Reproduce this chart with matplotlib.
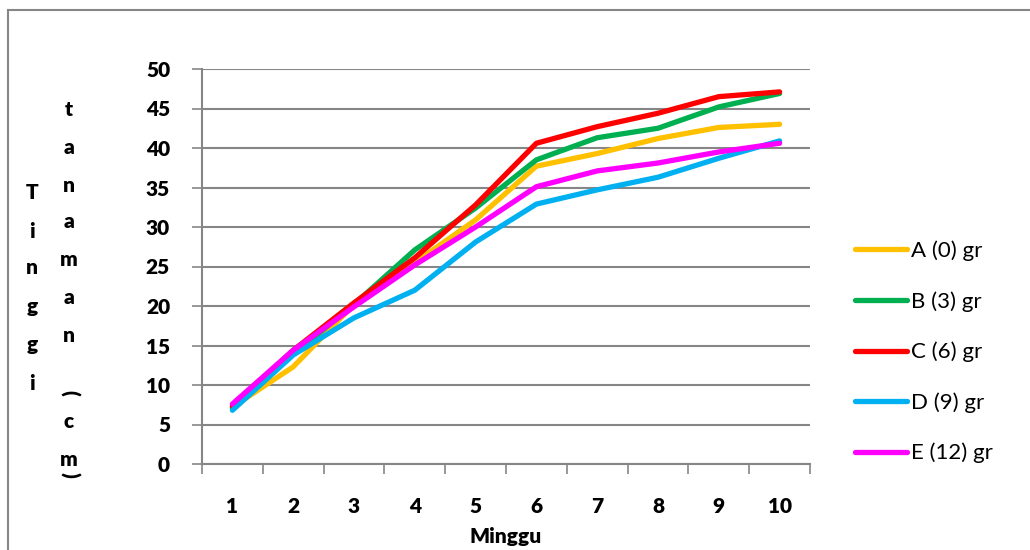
import matplotlib.pyplot as plt
import matplotlib as mpl
from matplotlib.patches import Rectangle

mpl.rcParams["font.family"] = ["Lato", "DejaVu Sans"]

# ---- Data ----
weeks = [1, 2, 3, 4, 5, 6, 7, 8, 9, 10]
series_labels = ["A (0) gr", "B (3) gr", "C (6) gr", "D (9) gr", "E (12) gr"]
a_vals = [7.2, 12.3, 20.2, 25.5, 30.9, 37.7, 39.3, 41.2, 42.6, 43.0]
b_vals = [7.0, 13.9, 20.2, 27.1, 32.4, 38.5, 41.3, 42.5, 45.2, 46.9]
c_vals = [7.3, 14.4, 20.4, 26.1, 32.8, 40.6, 42.7, 44.4, 46.5, 47.1]
d_vals = [6.8, 13.8, 18.5, 22.0, 28.1, 32.9, 34.7, 36.3, 38.7, 40.9]
e_vals = [7.6, 14.4, 19.9, 25.2, 30.0, 35.1, 37.1, 38.1, 39.5, 40.6]
colors = ["#FFC000", "#00B050", "#FF0000", "#00B0F0", "#FF00FF"]

W, H = 1030, 550
fig = plt.figure(figsize=(W / 100, H / 100), dpi=100)
fig.patch.set_facecolor("white")

# outer chart border (runs off the right/bottom edge)
fig.patches.append(Rectangle((8 / W, -0.05), 1.1, (H - 10) / H + 0.05,
                             transform=fig.transFigure, fill=False,
                             edgecolor="#868686", linewidth=1.5))

ax = fig.add_axes([202 / W, (H - 464) / H, (810 - 202) / W, (464 - 69) / H])

grid_c = "#868686"
for vals, lab, col in zip([a_vals, b_vals, c_vals, d_vals, e_vals], series_labels, colors):
    ax.plot(weeks, vals, color=col, linewidth=3.8, label=lab,
            solid_capstyle="round", solid_joinstyle="round", zorder=3)

ax.set_xlim(0.5, 10.5)
ax.set_ylim(0, 50)
ax.set_yticks(range(0, 51, 5))
ax.set_xticks(weeks)
ax.set_xticks([w + 0.5 for w in [0] + weeks], minor=True)
ax.tick_params(axis="x", which="major", length=0, pad=24, labelsize=15)
ax.tick_params(axis="x", which="minor", length=7, width=1.2, color=grid_c, direction="out")
ax.tick_params(axis="y", length=7, width=1.2, color=grid_c, direction="out", pad=16, labelsize=15)
for lab in ax.get_xticklabels() + ax.get_yticklabels():
    lab.set_fontweight("heavy")

ax.grid(axis="y", color=grid_c, linewidth=1.5, zorder=0)
ax.set_axisbelow(True)
for s in ["top", "right"]:
    ax.spines[s].set_visible(False)
for s in ["left", "bottom"]:
    ax.spines[s].set_color(grid_c)
    ax.spines[s].set_linewidth(1.5)

fig.text(506 / W, 1 - 537 / H, "Minggu", ha="center", va="center",
         fontsize=15, fontweight="heavy")

# stacked y-axis label letters
col1 = ["T", "i", "n", "g", "g", "i"]
col1_y = [193, 232, 268, 307, 345, 383]
for ch, y in zip(col1, col1_y):
    fig.text(32 / W, 1 - y / H, ch, ha="center", va="center",
             fontsize=15, fontweight="heavy")
col2 = ["t", "a", "n", "a", "m", "a", "n", "(", "c", "m", ")"]
col2_y = [110, 147, 185, 222, 260, 298, 335, 393, 422, 460, 475]
for ch, y in zip(col2, col2_y):
    rot = -90 if ch in "()" else 0
    fig.text(69 / W, 1 - y / H, ch, ha="center", va="center",
             fontsize=15, fontweight="heavy", rotation=rot)

fig.legend(loc="center left", bbox_to_anchor=(835 / W, 1 - 352 / H),
           frameon=False, fontsize=16, handlelength=2.35, handletextpad=0.15,
           labelspacing=1.35)

fig.savefig("out.png", dpi=100, facecolor="white")
